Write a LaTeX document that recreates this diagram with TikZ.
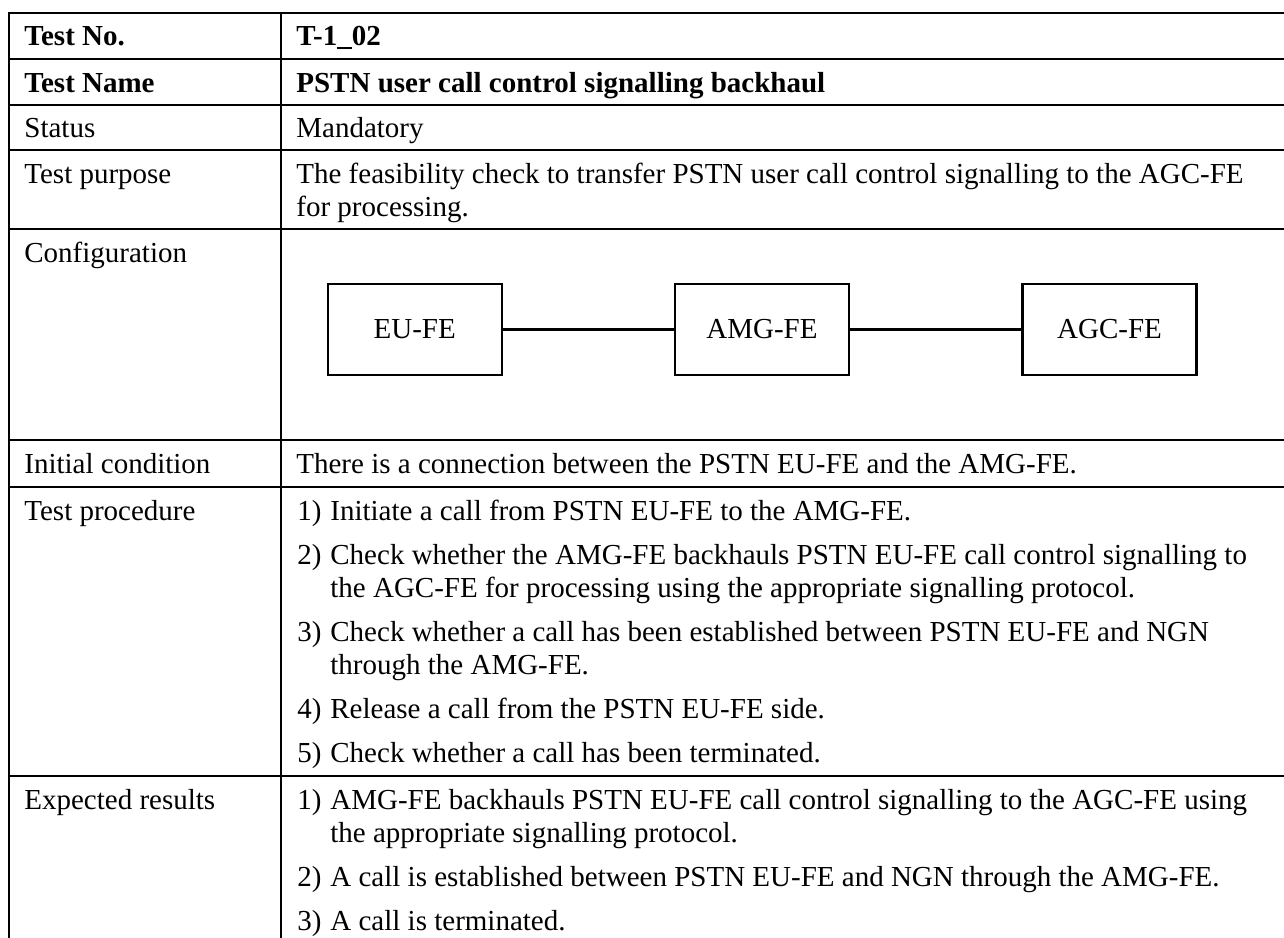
\documentclass[tikz,border=0pt]{standalone}
\usepackage{fontspec}
\setmainfont{Liberation Serif}
\newcommand\tabfont{\fontsize{14.5pt}{17pt}\selectfont}
\begin{document}
\begin{tikzpicture}[x=0.5pt,y=-0.5pt,
  rule/.style={line width=1.2pt,line cap=rect},
  lab/.style={anchor=base west,inner sep=0pt,font=\tabfont},
  fe/.style={draw,line width=1.2pt,minimum width=87pt,minimum height=45.5pt,inner sep=0pt,font=\tabfont},
  link/.style={line width=1.2pt}]
\useasboundingbox (0,0) rectangle (1284,937);
\fill[white] (0,0) rectangle (1284,937);
\begin{scope}
\clip (0,0) rectangle (1284,937);
% horizontal rules
\foreach \yy in {13,59,105,150,229,440,487,776}
  \draw[rule] (9,\yy) -- (1300,\yy);
% vertical rules
\draw[rule] (9,13) -- (9,960);
\draw[rule] (281,13) -- (281,960);
\end{scope}
% left column
\node[lab] (l1) at (24,46) {\textbf{Test No.}};
\node[lab] (l2) at (24,92) {\textbf{Test Name}};
\node[lab] (l3) at (24,137.5) {Status};
\node[lab] (l4) at (24,183) {Test purpose};
\node[lab] (l5) at (24,262) {Configuration};
\node[lab] (l6) at (24,473.5) {Initial condition};
\node[lab] (l7) at (24,520) {Test procedure};
\node[lab] (l8) at (24,809) {Expected results};
% right column
\node[lab] (r1) at (296,46) {\textbf{T-1\_02}};
\node[lab] (r2) at (296,92) {\textbf{PSTN user call control signalling backhaul}};
\node[lab] (r3) at (296,137.5) {Mandatory};
\node[lab] (r4a) at (296,183) {The feasibility check to transfer PSTN user call control signalling to the AGC-FE};
\node[lab] (r4b) at (296,216) {for processing.};
\node[lab] (r6) at (296,473.5) {There is a connection between the PSTN EU-FE and the AMG-FE.};
% test procedure
\node[lab] (p1n) at (297,520) {1)};
\node[lab] (p1) at (330,520) {Initiate a call from PSTN EU-FE to the AMG-FE.};
\node[lab] (p2n) at (297,564) {2)};
\node[lab] (p2a) at (330,564) {Check whether the AMG-FE backhauls PSTN EU-FE call control signalling to};
\node[lab] (p2b) at (330,597) {the AGC-FE for processing using the appropriate signalling protocol.};
\node[lab] (p3n) at (297,641) {3)};
\node[lab] (p3a) at (330,641) {Check whether a call has been established between PSTN EU-FE and NGN};
\node[lab] (p3b) at (330,674) {through the AMG-FE.};
\node[lab] (p4n) at (297,718) {4)};
\node[lab] (p4) at (330,718) {Release a call from the PSTN EU-FE side.};
\node[lab] (p5n) at (297,762) {5)};
\node[lab] (p5) at (330,762) {Check whether a call has been terminated.};
% expected results
\node[lab] (e1n) at (297,809) {1)};
\node[lab] (e1a) at (330,809) {AMG-FE backhauls PSTN EU-FE call control signalling to the AGC-FE using};
\node[lab] (e1b) at (330,842) {the appropriate signalling protocol.};
\node[lab] (e2n) at (297,886) {2)};
\node[lab] (e2) at (330,886) {A call is established between PSTN EU-FE and NGN through the AMG-FE.};
\node[lab] (e3n) at (297,930) {3)};
\node[lab] (e3) at (330,930) {A call is terminated.};
% configuration diagram
\node[fe] (eu) at (414.75,329.5) {EU-FE};
\node[fe] (amg) at (762,329.5) {AMG-FE};
\node[fe] (agc) at (1109.5,329.5) {AGC-FE};
\draw[link] (eu) -- (amg);
\draw[link] (amg) -- (agc);
\end{tikzpicture}
\end{document}
